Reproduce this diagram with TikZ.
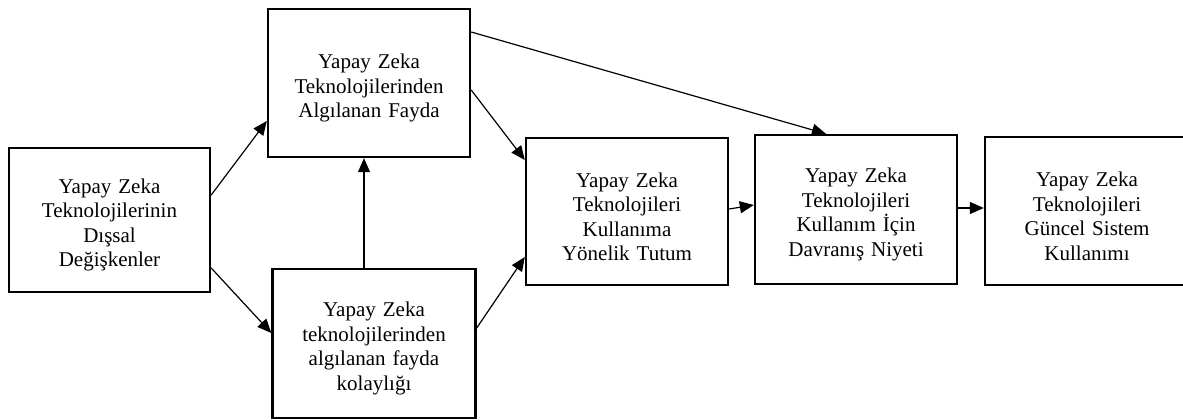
\documentclass[tikz,border=0pt]{standalone}
\usepackage{fontspec}
\setmainfont{Liberation Serif}
\usetikzlibrary{arrows.meta}
\newcommand\toppad{\rule{0pt}{25pt}}
\begin{document}
\begin{tikzpicture}[x=1pt,y=-1pt,
  box/.style={draw, line width=2.4pt, rectangle, minimum width=202pt, text width=190pt, align=center, inner sep=0pt,
    font=\fontsize{21}{24.5}\selectfont},
  conn/.style={line width=1.2pt, -{Triangle[length=14pt,width=12pt]}}]
\useasboundingbox (0,0) rectangle (1183,420);
\node[box, minimum width=201pt, minimum height=144pt] (b1) at (109.5,220) {\toppad Yapay Zeka\\Teknolojilerinin\\Dışsal\\Değişkenler};
\node[box, minimum height=148pt] (b2) at (369,83) {\toppad Yapay Zeka\\Teknolojilerinden\\Algılanan Fayda};
\node[box, minimum width=203pt, minimum height=149pt] (b3) at (374,343.5) {\toppad Yapay Zeka\\teknolojilerinden\\algılanan fayda\\kolaylığı};
\node[box, minimum height=147pt] (b4) at (627,211.5) {\toppad Yapay Zeka\\Teknolojileri\\Kullanıma\\Yönelik Tutum};
\node[box, minimum height=149pt] (b5) at (856,209.5) {\toppad Yapay Zeka\\Teknolojileri\\Kullanım İçin\\Davranış Niyeti};
\node[box, minimum width=204pt, minimum height=148pt] (b6) at (1087,211) {\toppad Yapay Zeka\\Teknolojileri\\Güncel Sistem\\Kullanımı};
\draw[conn] ([yshift=25pt]b1.east) -- ([yshift=-38pt]b2.west);
\draw[conn] ([yshift=-48pt]b1.east) -- ([yshift=10.5pt]b3.west);
\draw[conn] ([xshift=-10pt]b3.north) -- ([xshift=-10pt]b3.north |- b2.south);
\draw[conn] ([yshift=-7pt]b2.east) -- ([yshift=51.5pt]b4.west);
\draw[conn] ([yshift=15.5pt]b3.east) -- ([yshift=-45.5pt]b4.west);
\draw[conn] ([yshift=51pt]b2.east) -- ([xshift=-30pt]b5.north);
\draw[conn] ([yshift=2.5pt]b4.east) -- ([yshift=4.5pt]b5.west);
\draw[conn] ([yshift=1.5pt]b5.east) -- ([yshift=1.5pt]b5.east -| b6.west);
\end{tikzpicture}
\end{document}
